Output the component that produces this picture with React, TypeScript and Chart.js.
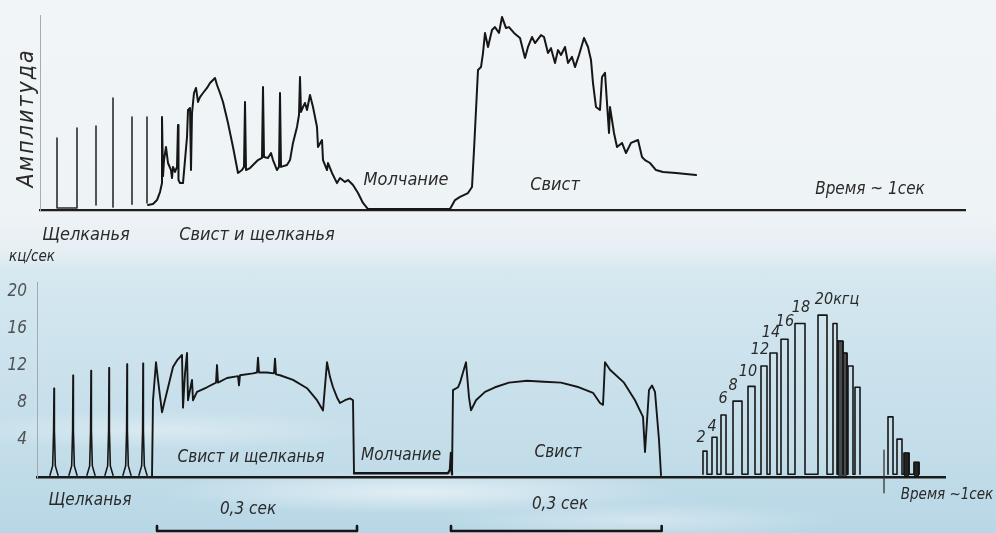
import React, { useEffect, useRef } from 'react';
import { Chart, registerables } from 'chart.js';
Chart.register(...registerables);

// ================= DATA =================
// Top panel: amplitude (arbitrary units 0..100) vs time (ms)
const TOP_TIME_MAX = 925;
const AMP_MAX = 100;

// isolated clicks (vertical strokes), null = pen lifted
const TOP_CLICKS: (number[] | null)[] = [
  [17, 36.9], [17, 1], [37, 1], [37, 42], null,
  [56, 43], [56, 2.6], null,
  [73, 57.4], [73, 1.5], null,
  [92, 47.7], [92, 3], null,
  [107, 47.7], [107, 3.6],
];

// whistle + clicks, silence, whistle
const TOP_TRACE: number[][] = [
  [108, 2.6], [113, 3.1], [117, 5.1], [120, 9.2], [122, 13.8], [122, 47.7], [123, 17.4], [124, 25.6],
  [126, 32.3], [128, 24.1], [131, 20.5], [132, 16.4], [133, 22.1], [135, 19.5], [137, 22.1], [138, 43.6],
  [138.5, 15.4], [140, 13.8], [143, 13.8], [145, 25.6], [147, 37.4], [148, 51.3], [150, 52.3], [151, 20.5],
  [152, 49.7], [154, 60], [156, 62.6], [158, 55.4], [160, 57.9], [163, 60], [167, 62.6], [170, 65.1],
  [173, 66.7], [175, 67.7], [177, 64.1], [180, 60], [183, 55.4], [188, 44.6], [193, 32.3], [198, 19],
  [202, 20.5], [204, 22.1], [205, 55.4], [206, 20.5], [210, 21.5], [215, 24.1], [218, 25.6], [222, 26.7],
  [223, 63.1], [224, 27.2], [228, 26.7], [231, 29.2], [233, 25.6], [237, 20.5], [239, 22.1], [240, 60],
  [241, 22.1], [247, 23.1], [250, 25.6], [253, 34.4], [257, 42.6], [259, 48.7], [260, 68.2], [261, 50.3],
  [263, 52.8], [265, 54.9], [267, 51.3], [270, 59], [273, 52.8], [277, 42.6], [278, 32.3], [282, 35.9],
  [283, 25.6], [287, 20.5], [288, 24.1], [292, 19], [297, 13.8], [300, 16.4], [305, 14.4], [308, 15.4],
  [313, 12.8], [318, 8.7], [323, 3.6], [328, 0.5],
  [410, 0.5], [415, 5.1], [420, 6.7], [428, 8.7], [432, 11.8], [434, 30.8], [438, 71.8], [441, 73.3],
  [443, 80.5], [445, 90.8], [448, 83.6], [452, 92.3], [455, 93.8], [459, 90.8], [462, 99], [466, 93.3],
  [469, 93.8], [474, 90.8], [480, 88.2], [485, 78], [488, 83.6], [492, 88.7], [495, 85.6], [501, 89.7],
  [504, 88.7], [508, 80.5], [511, 83], [515, 75.4], [518, 82], [521, 79.5], [525, 83.6], [528, 75.4],
  [532, 78.5], [535, 73.3], [539, 79.5], [544, 88.2], [548, 83.6], [551, 76.9], [553, 65.1], [556, 52.8],
  [560, 51.3], [562, 68.2], [565, 70.3], [569, 39.5], [570, 52.8], [574, 39.5], [577, 32.3], [582, 34.4],
  [586, 29.2], [591, 34.4], [598, 35.9], [602, 27.2], [605, 25.6], [610, 24.1], [616, 20.5], [623, 19.5],
  [636, 19], [656, 17.9],
];

// Bottom panel: frequency (kHz) vs time (ms)
const BOT_TIME_MAX = 1362;
const KHZ_MAX = 21;
const KHZ_TICKS = [4, 8, 12, 16, 20];

const CLICK_T = [25.5, 54, 81, 108, 135, 159];
const CLICK_PEAK = [9.6, 11, 11.5, 11.8, 12.2, 12.3];

const MIXED_TRACE: number[][] = [
  [172.5, 0], [174, 8.3], [178.5, 12.4], [181.5, 10.5], [187.5, 7], [204, 11.9], [210, 12.6], [217.5, 13.2],
  [219, 7.5], [222, 11.2], [225, 13.4], [226.5, 8.3], [232.5, 10.5], [234, 8.3], [240, 9.2], [255, 9.7],
  [268.5, 10.2], [270, 12.1], [271.5, 10.2], [285, 10.7], [301.5, 10.9], [303, 9.9], [304.5, 11], [324, 11.2],
  [330, 11.3], [331.5, 12.9], [333, 11.3], [345, 11.3], [355.5, 11.2], [357, 12.8], [358.5, 11.1], [364.5, 11],
  [384, 10.5], [405, 9.6], [420, 8.3], [429, 7.2], [435, 12.4], [439.5, 10.8], [444, 9.7], [450, 8.6],
  [454.5, 8], [462, 8.3], [469.5, 8.5], [474, 8.3], [475.5, 0.4],
];

const SILENCE_TRACE: number[][] = [
  [475.5, 0.4], [616.5, 0.4], [619.5, 0.8], [621, 2.6], [622.5, 0.3],
];

const WHISTLE_TRACE: number[][] = [
  [622.5, 0.3], [624, 9.4], [631.5, 9.7], [634.5, 10.2], [643.5, 12.4], [648, 8.6], [651, 7.2], [658.5, 8.3],
  [672, 9.2], [687, 9.7], [708, 10.2], [735, 10.4], [760.5, 10.3], [786, 10.2], [813, 9.7], [834, 9.1],
  [844.5, 8], [849, 7.8], [852, 12.4], [859.5, 11.6], [880.5, 10.2], [897, 8.3], [909, 6.5], [912, 2.7],
  [918, 9.4], [922.5, 9.9], [927, 9.2], [933, 4], [936, 0.2],
];

// calibration tone pulses 2..20 kHz
const CAL_LEFT = [999, 1012.5, 1026, 1044, 1066.5, 1086, 1099.5, 1116, 1137, 1171.5, 1194, 1201.5, 1209, 1216.5, 1227];
const CAL_RIGHT = [1005, 1020, 1033.5, 1057.5, 1077, 1095, 1110, 1126.5, 1152, 1185, 1200, 1209, 1215, 1224, 1234.5];
const CAL_TOP = [2.8, 4.3, 6.7, 8.2, 9.8, 12, 13.4, 14.9, 16.6, 17.5, 16.6, 14.7, 13.4, 12, 9.7];
const CAL_DARK = [11, 12];
const CAL_LABELS = ['2', '4', '6', '8', '10', '12', '14', '16', '18', '20кгц'];

// trailing marker pulses
const MARK_T = 1270.5;
const MARK_RANGE = [2.9, -1.7];
const POST_LEFT = [1276.5, 1290, 1300.5, 1315.5];
const POST_RIGHT = [1284, 1297.5, 1308, 1323];
const POST_TOP = [6.5, 4.1, 2.6, 1.6];
const POST_DARK = [2, 3];

// 0.3 s scale bars
const SCALE_FROM = [180, 621];
const SCALE_TO = [480, 937];

// ================= LAYOUT / STYLE =================
const FONT = "'DejaVu Sans Condensed', 'DejaVu Sans', sans-serif";
const INK = '#161616';
const BG =
  'radial-gradient(ellipse 260px 22px at 420px 492px, rgba(255,255,255,0.55), rgba(255,255,255,0)),' +
  'radial-gradient(ellipse 220px 20px at 160px 430px, rgba(255,255,255,0.35), rgba(255,255,255,0)),' +
  'radial-gradient(ellipse 200px 18px at 640px 520px, rgba(255,255,255,0.35), rgba(255,255,255,0)),' +
  'linear-gradient(180deg, #f1f5f7 0%, #eef3f6 40%, #e6eff4 47%, #d6e8f0 51%, #cde3ed 65%, #c3dde9 85%, #b8d7e6 100%)';

const TOP_NOTES = [
  { text: 'Щелканья', t: 46, v: -12.8, size: 18 },
  { text: 'Свист и щелканья', t: 217, v: -12.8, size: 18 },
  { text: 'Молчание', t: 366, v: 15.4, size: 18 },
  { text: 'Свист', t: 515, v: 12.8, size: 18 },
  { text: 'Время ~ 1сек', t: 830, v: 10.3, size: 17 },
  { text: 'Амплитуда', t: -13, v: 47.2, size: 23, rot: -Math.PI / 2, spacing: 2 },
];

const CAL_LABEL_POS = [
  [996, 4.2], [1012.5, 5.4], [1029, 8.5], [1044, 9.9], [1066.5, 11.4],
  [1084.5, 13.7], [1101, 15.6], [1122, 16.8], [1146, 18.3], [1200, 19.1],
];

const BOT_NOTES = [
  { text: 'кц/сек', t: -7.5, v: 23.8, size: 15 },
  { text: 'Свист и щелканья', t: 321, v: 2.05, size: 17 },
  { text: 'Молчание', t: 546, v: 2.3, size: 17 },
  { text: 'Свист', t: 781.5, v: 2.6, size: 17 },
  { text: 'Щелканья', t: 79.5, v: -2.5, size: 17 },
  { text: '0,3 сек', t: 316.5, v: -3.57, size: 17 },
  { text: '0,3 сек', t: 784.5, v: -3.0, size: 17 },
  { text: 'Время ~1сек', t: 1365, v: -1.95, size: 15 },
  ...CAL_LABELS.map((s, i) => ({ text: s, t: CAL_LABEL_POS[i][0], v: CAL_LABEL_POS[i][1], size: 16 })),
];

// ================= HELPERS =================
type Pt = { x: number; y: number | null };
function toXY(pairs: (number[] | null)[]): Pt[] {
  const out: Pt[] = [];
  let lastX = 0;
  for (const p of pairs) {
    if (p) {
      out.push({ x: p[0], y: p[1] });
      lastX = p[0];
    } else out.push({ x: lastX, y: null });
  }
  return out;
}

function pulses(L: number[], R: number[], T: number[], idx?: number[], base = 0.3): (number[] | null)[] {
  const out: (number[] | null)[] = [];
  const use = idx ?? L.map((_, i) => i);
  for (const i of use) {
    out.push([L[i], base], [L[i], T[i]], [R[i], T[i]], [R[i], base]);
    if (idx) out.push(null);
  }
  return out;
}

function spikes(T: number[], P: number[]): (number[] | null)[] {
  const out: (number[] | null)[] = [];
  T.forEach((t, i) => {
    out.push([t - 6, 0.2], [t - 2, 1.2], [t - 0.6, 5], [t, P[i]], [t + 0.6, 5], [t + 2, 1.2], [t + 6, 0.2], null);
  });
  return out;
}

function scaleBars(): (number[] | null)[] {
  const out: (number[] | null)[] = [];
  SCALE_FROM.forEach((f, i) => {
    out.push([f, -5.3], [f, -5.84], [SCALE_TO[i], -5.84], [SCALE_TO[i], -5.3], null);
  });
  return out;
}

const notesPlugin = {
  id: 'notes',
  afterDraw(chart: any, _args: any, opts: any) {
    const { ctx } = chart;
    const xs = chart.scales.x;
    const ys = chart.scales.y;
    for (const n of opts.items || []) {
      ctx.save();
      ctx.font = `italic ${n.size}px ${FONT}`;
      ctx.fillStyle = '#2a2a2a';
      ctx.textAlign = 'center';
      ctx.textBaseline = 'middle';
      if (n.spacing) (ctx as any).letterSpacing = `${n.spacing}px`;
      ctx.translate(xs.getPixelForValue(n.t), ys.getPixelForValue(n.v));
      if (n.rot) ctx.rotate(n.rot);
      ctx.fillText(n.text, 0, 0);
      ctx.restore();
    }
  },
};

function line(data: Pt[], width: number, color = INK, extra: any = {}) {
  return {
    type: 'line',
    data,
    borderColor: color,
    borderWidth: width,
    pointRadius: 0,
    tension: 0,
    fill: false,
    spanGaps: false,
    borderJoinStyle: 'round',
    borderCapStyle: 'round',
    ...extra,
  };
}

function topConfig(): any {
  return {
    type: 'line',
    data: {
      datasets: [
        line(toXY(TOP_CLICKS), 1.6, '#2c2c2c'),
        line(toXY(TOP_TRACE), 2),
      ],
    },
    plugins: [notesPlugin],
    options: {
      responsive: false,
      animation: false,
      events: [],
      layout: { padding: { top: 15, right: 31, bottom: 40, left: 0 } },
      plugins: { legend: { display: false }, tooltip: { enabled: false }, notes: { items: TOP_NOTES } },
      scales: {
        x: {
          type: 'linear', min: 0, max: TOP_TIME_MAX,
          grid: { display: false, drawTicks: false },
          ticks: { display: false },
          border: { display: true, color: '#1e1e1e', width: 2.2 },
          afterFit: (s: any) => { s.height = 0; },
        },
        y: {
          type: 'linear', min: 0, max: AMP_MAX,
          grid: { display: false, drawTicks: false },
          ticks: { display: false },
          border: { display: true, color: '#a7aeb2', width: 1 },
          afterFit: (s: any) => { s.width = 40; },
        },
      },
    },
  };
}

function botConfig(): any {
  return {
    type: 'line',
    data: {
      datasets: [
        line(toXY(spikes(CLICK_T, CLICK_PEAK)), 1.6),
        line(toXY(MIXED_TRACE), 1.9),
        line(toXY(SILENCE_TRACE), 2.4),
        line(toXY(WHISTLE_TRACE), 1.9),
        line(toXY(pulses(CAL_LEFT, CAL_RIGHT, CAL_TOP)), 1.6),
        line(toXY(pulses(CAL_LEFT, CAL_RIGHT, CAL_TOP, CAL_DARK)), 0.8, '#222',
          { fill: 'origin', backgroundColor: 'rgba(25,25,25,0.75)' }),
        line(toXY([[MARK_T, MARK_RANGE[0]], [MARK_T, MARK_RANGE[1]]]), 1.3, '#333', { clip: false }),
        line(toXY(pulses(POST_LEFT, POST_RIGHT, POST_TOP, undefined)), 1.6),
        line(toXY(pulses(POST_LEFT, POST_RIGHT, POST_TOP, POST_DARK)), 0.8, '#111',
          { fill: 'origin', backgroundColor: 'rgba(15,15,15,0.9)' }),
        line(toXY(scaleBars()), 2.6, '#151515', { clip: false }),
      ],
    },
    plugins: [notesPlugin],
    options: {
      responsive: false,
      animation: false,
      events: [],
      layout: { padding: { top: 37.75, right: 51, bottom: 56, left: 0 } },
      plugins: { legend: { display: false }, tooltip: { enabled: false }, notes: { items: BOT_NOTES } },
      scales: {
        x: {
          type: 'linear', min: 0, max: BOT_TIME_MAX,
          grid: { display: false, drawTicks: false },
          ticks: { display: false },
          border: { display: true, color: '#1a1a1a', width: 2.5 },
          afterFit: (s: any) => { s.height = 0; },
        },
        y: {
          type: 'linear', min: 0, max: KHZ_MAX,
          grid: { display: false, drawTicks: false },
          border: { display: true, color: '#a3abb0', width: 1 },
          afterBuildTicks: (s: any) => { s.ticks = KHZ_TICKS.map((v) => ({ value: v })); },
          ticks: {
            padding: 10,
            color: '#4d5255',
            font: { family: FONT, size: 17, style: 'italic' },
          },
          afterFit: (s: any) => { s.width = 37; },
        },
      },
    },
  };
}

export default function App() {
  const topRef = useRef<HTMLCanvasElement>(null);
  const botRef = useRef<HTMLCanvasElement>(null);
  useEffect(() => {
    const top = new Chart(topRef.current as HTMLCanvasElement, topConfig());
    const bot = new Chart(botRef.current as HTMLCanvasElement, botConfig());
    return () => {
      top.destroy();
      bot.destroy();
    };
  }, []);
  return (
    <div style={{ position: 'absolute', left: 0, top: 0, width: 996, height: 533, overflow: 'hidden', background: BG }}>
      <canvas ref={topRef} width={996} height={250} style={{ position: 'absolute', left: 0, top: 0 }} />
      <canvas ref={botRef} width={996} height={288} style={{ position: 'absolute', left: 0, top: 245 }} />
    </div>
  );
}
